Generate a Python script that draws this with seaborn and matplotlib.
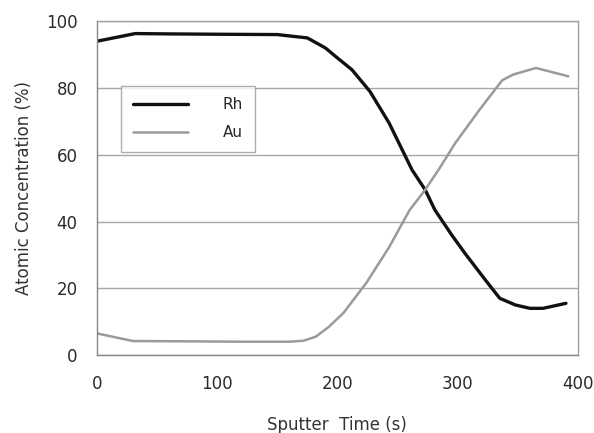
import numpy as np
import pandas as pd
import seaborn as sns
import matplotlib.pyplot as plt

# sputter depth profile
rh_time = [0, 32, 60, 100, 150, 175, 190, 200, 212, 227, 243, 262, 273, 281, 295, 306, 323, 335, 348, 360, 371, 390]
rh_conc = [94, 96.3, 96.2, 96.1, 96, 95, 92, 89, 85.5, 79, 69.5, 55.5, 49.5, 43.5, 36, 30.5, 22.5, 17, 15, 14, 14, 15.5]

au_time = [0, 30, 80, 120, 160, 172, 182, 193, 205, 224, 243, 260, 273, 285, 298, 318, 337, 346, 365, 392]
au_conc = [6.5, 4.2, 4.1, 4.0, 4.0, 4.3, 5.5, 8.5, 12.6, 21.6, 32.3, 43.4, 49.5, 56, 63.5, 73.4, 82.3, 84, 86, 83.5]

x_ticks = [0, 100, 200, 300, 400]
y_ticks = [0, 20, 40, 60, 80, 100]

sns.set_theme(style="white")
plt.rcParams['font.family'] = ['DejaVu Sans']

df = pd.concat([
    pd.DataFrame({'time': rh_time, 'conc': rh_conc, 'element': 'Rh'}),
    pd.DataFrame({'time': au_time, 'conc': au_conc, 'element': 'Au'}),
])

fig = plt.figure(figsize=(5.94, 4.33), dpi=100)
ax = fig.add_axes([0.163, 0.18, 0.81, 0.771])

sns.lineplot(data=df, x='time', y='conc', hue='element', hue_order=['Rh', 'Au'],
             palette={'Rh': '#111111', 'Au': '#9a9a9a'}, ax=ax, legend=False)
lines = ax.get_lines()
lines[0].set_linewidth(2.4)
lines[1].set_linewidth(1.8)

ax.set_xlim(0, 400)
ax.set_ylim(0, 100)
ax.set_xticks(x_ticks)
ax.set_yticks(y_ticks)
ax.yaxis.grid(True, color='#a8a8a8', linewidth=1.0)
ax.set_axisbelow(True)
for s in ax.spines.values():
    s.set_color('#a0a0a0')
    s.set_linewidth(1.0)
ax.spines['left'].set_color('#888888')
ax.spines['bottom'].set_color('#888888')
ax.tick_params(axis='both', length=0, labelsize=12, labelcolor='#2a2a2a')
ax.tick_params(axis='x', pad=14)
ax.tick_params(axis='y', pad=14)

ax.set_xlabel('Sputter  Time (s)', fontsize=12, color='#333333', labelpad=17)
ax.set_ylabel('Atomic Concentration (%)', fontsize=12, color='#333333', labelpad=9)

leg = ax.legend(lines, ['Rh', 'Au'], loc='upper left', bbox_to_anchor=(0.035, 0.83),
                frameon=True, fancybox=False, handlelength=3.6, handletextpad=2.3,
                fontsize=11, borderpad=0.75, labelspacing=0.85)
leg.get_frame().set_edgecolor('#999999')
leg.get_frame().set_linewidth(1.0)

fig.savefig('out.png', dpi=100)
